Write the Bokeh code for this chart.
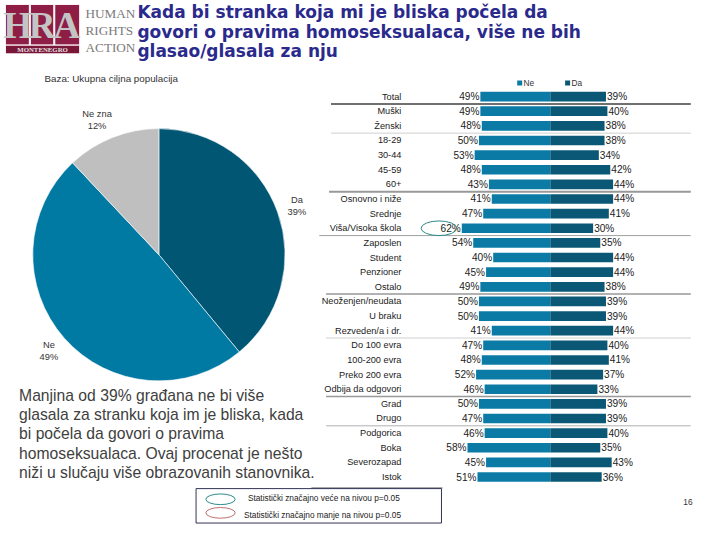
import math
from bokeh.plotting import figure
from bokeh.models import Range1d
from bokeh.core.properties import value
from bokeh.embed import file_html
from bokeh.resources import INLINE

# ---------------- data ----------------
title_lines = ["Kada bi stranka koja mi je bliska počela da",
               "govori o pravima homoseksualaca, više ne bih",
               "glasao/glasala za nju"]
base_text = "Baza: Ukupna ciljna populacija"

pie_labels = ["Da", "Ne", "Ne zna"]
pie_values = [39, 49, 12]

series = ["Ne", "Da"]
categories = ["Total", "Muški", "Ženski", "18-29", "30-44", "45-59", "60+",
              "Osnovno i niže", "Srednje", "Viša/Visoka škola",
              "Zaposlen", "Student", "Penzioner", "Ostalo",
              "Neoženjen/neudata", "U braku", "Rezveden/a i dr.",
              "Do 100 evra", "100-200 evra", "Preko 200 evra", "Odbija da odgovori",
              "Grad", "Drugo", "Podgorica", "Boka", "Severozapad", "Istok"]
ne_values = [49, 49, 48, 50, 53, 48, 43, 41, 47, 62, 54, 40, 45, 49, 50, 50, 41,
             47, 48, 52, 46, 50, 47, 46, 58, 45, 51]
da_values = [39, 40, 38, 38, 34, 42, 44, 44, 41, 30, 35, 44, 44, 38, 39, 39, 44,
             40, 41, 37, 33, 39, 39, 40, 35, 43, 36]
group_ends = [0, 2, 6, 9, 13, 16, 20, 22]
highlight_rows = [9]

body_lines = ["Manjina od 39% građana ne bi više",
              "glasala za stranku koja im je bliska, kada",
              "bi počela da govori o pravima",
              "homoseksualaca. Ovaj procenat je nešto",
              "niži u slučaju više obrazovanih stanovnika."]
legend_notes = ["Statistički značajno veće na nivou p=0.05",
                "Statistički značajno manje na nivou p=0.05"]
page_number = "16"

# ---------------- styling ----------------
C_NE = "#0B7BA6"
C_DA = "#0A5876"
C_PIE = ["#005673", "#0079A3", "#BFBFBF"]
NAVY = "#2A2A8C"
SANS = value("Liberation Sans")
TITLE_FONT = value("DejaVu Sans")
SERIF = value("Liberation Serif")
K = 704 / 720.0


def fs(px):
    return f"{px * K:.1f}px"


p = figure(width=704, height=524, x_range=Range1d(0, 720), y_range=Range1d(540, 0),
           output_backend="svg", toolbar_location=None, min_border=0,
           x_axis_location=None, y_axis_location=None)
p.grid.visible = False
p.outline_line_color = None
p.background_fill_color = "white"

# bar chart scales: percent along x, row index along y
CENTER, PXP = 562.3, 1.46
ROW0, ROWH = 99.0, 15.08
p.extra_x_ranges = {"pct": Range1d((0 - CENTER) / PXP, (720 - CENTER) / PXP)}
p.extra_y_ranges = {"rows": Range1d((540 - ROW0) / ROWH, (0 - ROW0) / ROWH)}

# ---------------- logo ----------------
p.quad(left=[5, 30.5, 55.5], right=[29.5, 54.5, 81], top=[4, 4, 4], bottom=[46, 46, 46],
       fill_color="#8E1E45", line_color="white", line_width=1)
p.quad(left=[5], right=[81], top=[46], bottom=[55], fill_color="#7A1638", line_color="white", line_width=1)
p.text(x=[17.5, 42.5, 68], y=[26, 26, 26], text=["H", "R", "A"], text_font=SERIF,
       text_font_size=fs(38), text_color="#C4C4C4", text_align="center", text_baseline="middle",
       text_font_style="bold")
p.text(x=[43], y=[51], text=["MONTENEGRO"], text_font=SERIF, text_font_size=fs(7),
       text_color="#E0E0E0", text_align="center", text_baseline="middle", text_font_style="bold")
p.text(x=[87, 87, 87], y=[13, 31, 48], text=["HUMAN", "RIGHTS", "ACTION"], text_font=SERIF,
       text_font_size=fs(13.5), text_color="#7A7A7A", text_baseline="middle")

# ---------------- title ----------------
p.text(x=[140] * 3, y=[12, 32.5, 52], text=title_lines, text_font=TITLE_FONT,
       text_font_size=fs(17.4), text_font_style="bold", text_color=NAVY, text_baseline="middle")
p.text(x=[45], y=[80], text=[base_text], text_font=SANS, text_font_size=fs(10),
       text_color="#333333", text_baseline="middle")

# ---------------- pie ----------------
PCX, PCY, PR = 162, 262, 129
total = float(sum(pie_values))
start = math.pi / 2
starts, ends, mids = [], [], []
for v in pie_values:
    sweep = 2 * math.pi * v / total
    starts.append(start)
    ends.append(start - sweep)
    mids.append(start - sweep / 2)
    start -= sweep
p.wedge(x=[PCX] * 3, y=[PCY] * 3, radius=PR, start_angle=starts, end_angle=ends,
        direction="clock", fill_color=C_PIE, line_color="white", line_width=0.6)
LR = 150
lx = [PCX + LR * math.cos(a) for a in mids]
ly = [PCY - LR * math.sin(a) for a in mids]
lx[2] -= 8
p.text(x=lx, y=[y - 6 for y in ly], text=pie_labels, text_font=SANS, text_font_size=fs(9.5),
       text_color="#333333", text_align="center", text_baseline="middle")
p.text(x=lx, y=[y + 6.5 for y in ly], text=[f"{v}%" for v in pie_values], text_font=SANS,
       text_font_size=fs(9.5), text_color="#333333", text_align="center", text_baseline="middle")

# ---------------- bar chart ----------------
rows = list(range(len(categories)))
p.hbar(y=rows, left=[-v for v in ne_values], right=0, height=0.66, fill_color=C_NE,
       line_color=None, x_range_name="pct", y_range_name="rows")
p.hbar(y=rows, left=0, right=da_values, height=0.66, fill_color=C_DA,
       line_color=None, x_range_name="pct", y_range_name="rows")
p.text(x=[-v for v in ne_values], y=rows, text=[f"{v}%" for v in ne_values],
       x_range_name="pct", y_range_name="rows", x_offset=-1, text_align="right",
       text_baseline="middle", text_font=SANS, text_font_size=fs(10.3), text_color="#222222")
p.text(x=da_values, y=rows, text=[f"{v}%" for v in da_values],
       x_range_name="pct", y_range_name="rows", x_offset=1, text_align="left",
       text_baseline="middle", text_font=SANS, text_font_size=fs(10.3), text_color="#222222")
p.text(x=[410] * len(categories), y=rows, text=categories, y_range_name="rows",
       text_align="right", text_baseline="middle", text_font=SANS, text_font_size=fs(9.4),
       text_color="#222222")

# group separators
sep_x0 = [338, 338, 336, 326, 333, 333, 333, 333]
sep_col = ["#707070", "#D0D0D0", "#999999", "#A0A0A0", "#999999", "#D0D0D0", "#999999", "#B0B0B0"]
sep_w = [2, 1, 2, 1, 1.5, 1, 1.5, 1]
for g, x0, c, w in zip(group_ends, sep_x0, sep_col, sep_w):
    p.segment(x0=[x0], x1=[706], y0=[g + 0.5], y1=[g + 0.5], y_range_name="rows",
              line_color=c, line_width=w)
p.segment(x0=[318], x1=[452], y0=[len(categories) - 0.25], y1=[len(categories) - 0.25],
          y_range_name="rows", line_color="#555555", line_width=1)

# significance ellipse
p.ellipse(x=[-(ne_values[r] + 16) for r in highlight_rows], y=highlight_rows, width=25, height=1.0,
          x_range_name="pct", y_range_name="rows",
          fill_color=None, line_color="#2E8B8B", line_width=1)

# legend
p.scatter(x=[531, 580], y=[85, 85], marker="square", size=5, fill_color=[C_NE, C_DA], line_color=None)
p.text(x=[535, 584], y=[85, 85], text=series, text_font=SANS, text_font_size=fs(8.5),
       text_color="#333333", text_baseline="middle")

# ---------------- body text ----------------
p.text(x=[19] * 5, y=[407, 426.5, 446.5, 466.5, 486.5], text=body_lines, text_font=SANS,
       text_font_size=fs(16.1), text_color="#404040", text_baseline="middle")

# ---------------- significance legend ----------------
p.quad(left=[200], right=[451], top=[503], bottom=[538.5], fill_color="white",
       line_color="#333355", line_width=1)
p.ellipse(x=[225, 225], y=[514, 528], width=30, height=11, fill_color=None,
          line_color=["#2E8B8B", "#C07070"], line_width=1)
p.text(x=[253, 249], y=[513, 530], text=legend_notes, text_font=SANS, text_font_size=fs(8.5),
       text_color="#222222", text_baseline="middle")
p.text(x=[703], y=[517], text=[page_number], text_font=SANS, text_font_size=fs(8.5),
       text_color="#333333", text_baseline="middle", text_align="center")

open("out.html", "w").write(file_html(p, INLINE))
